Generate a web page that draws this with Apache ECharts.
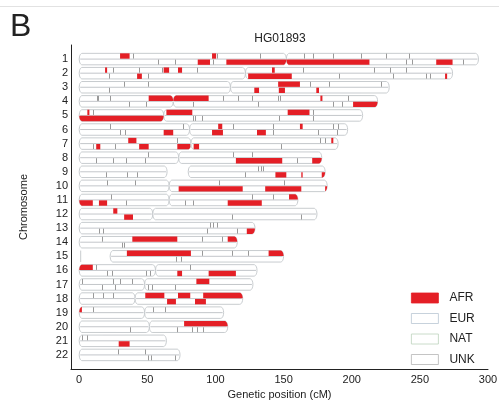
<!DOCTYPE html>
<html>
<head>
<meta charset="utf-8">
<script src="https://cdn.jsdelivr.net/npm/echarts@6/dist/echarts.min.js"></script>
<style>
  html, body { margin: 0; padding: 0; background: #fff; }
  #main { width: 499px; height: 401px; }
</style>
</head>
<body>
<div id="main"></div>
<script>
var chromosomes = ['1','2','3','4','5','6','7','8','9','10','11','12','13','14','15','16','17','18','19','20','21','22'];
var chromStart = [0,0,0,0,0,0,0,0,0,0,0,0,0,0,22.7,0,0,0,0,0,0,0];
var chromLength = [293,274,227.5,219,208,197,190,178,180.5,182,160.5,174.5,129,116,150,130.5,127.5,120,106,109,64,74];
// [end of p arm, start of q arm], null = no visible centromere
var centromere = [[152,152],[122,122],[111,111],[69,69],[62,62],[81,81],[82,82],[73,73],[64.5,80],[66,66],[66,66],[54,54],
                  null,null,null,[56,56],[48,48],[41,41],[48,48],[51.5,51.5],null,null];

// AFR tracts (cM), haplotype A = upper row, B = lower row
var afrHapA = [
  [[30,37],[97.5,100.5]],
  [[19,20.5],[62,66],[72.5,75.5],[141.5,143.5]],
  [[146,162]],
  [[51,95],[177,178.5]],
  [[6,7.5],[64,83],[153,169]],
  [[102,105],[162,164]],
  [[36,42],[185,186.5]],
  [],
  [],
  [],
  [[154,160.5]],
  [[25,28]],
  [],
  [[39,72],[109,116]],
  [[35,82],[139,150]],
  [[0,10]],
  [[86,95.5]],
  [[48.5,62.5],[72.5,81.5],[91,120]],
  [[0,2]],
  [[77,109]],
  [],
  []
];
var afrHapB = [
  [[87,96],[108,213],[262,274]],
  [[42.5,46],[124,156],[268.5,270]],
  [[128.5,132],[146.5,151],[174,176]],
  [[201,219]],
  [[0,62]],
  [[62,69],[97.5,105.5],[130.5,137]],
  [[12.5,15.5],[44,51],[72,81.5],[84,88]],
  [[115,149],[171,178]],
  [[144,152],[163,164],[178,180.5]],
  [[73,120],[136.5,163],[180.5,182]],
  [[0,10],[14.5,20.5],[109,134]],
  [[33,39.5]],
  [[123,129]],
  [],
  [],
  [[72,75.5],[95,115]],
  [],
  [[64.5,71],[85,93]],
  [],
  [],
  [[29,37]],
  []
];

// other tract boundaries (cM)
var breaksHapA = [
  [39.6,101,133,165,171.5,186,207,225,242],
  [25,44,61,86.5,164,216,228,240],
  [33,50.6,169.5,183.4,221.6],
  [13.2,14,22.7,105.6,116.7,127,146,147.5,197.4],
  [10.3,171.7],
  [22.7,76.3,113,142.3,186.4,190],
  [72,176.8,180.5],
  [50.6,113,127],
  [131.3,133.5,135],
  [20.5,41,102.7,150.4],
  [23.5,127,142.3],
  [],
  [96,98.3,101.2],
  [16.9,90.2,105],
  [90.2,112.3,124],
  [12.5,81.4],
  [2.2,25,30,38.9],
  [10.3,17.6,25],
  [10.3,54.3,63],
  [],
  [2.2,5.9],
  [28.6,48.4]
];
var breaksHapB = [
  [58,70.5,98,240,244,282],
  [22,50.6,191,230,254.6,257.5],
  [22],
  [36.7,49,83.6,131,186.4,193],
  [83.6,85,90,146.7,171.7],
  [30,33.7,142.3,175.4,189.3],
  [10.3,26.4,148],
  [12.5,25,34.5,48.4,160],
  [19.8,35.2,42.6,121.8],
  [],
  [34.5,77.8,83.6],
  [112.3,163],
  [14.7,17.6,94,116],
  [31.5,33],
  [71.2,74.8],
  [20.5,24.2,49,52],
  [16.9,26.4,50.6,53.6,70.4],
  [],
  [],
  [37.4,72,83,86.6,91],
  [],
  [50.6,52.8,70.4]
];

var ancestries = ['AFR','EUR','NAT','UNK'];
var ancestryFill = ['#e41f26','#ffffff','#ffffff','#ffffff'];
var ancestryBorder = ['#e41f26','#b9c6d3','#bcd3bc','#b5b5b5'];
var xTicks = [0,50,100,150,200,250,300];

var font = 'Liberation Sans, Arial, Helvetica, sans-serif';
var myChart = echarts.init(document.getElementById('main'));

function renderChrom(params, api) {
  var i = params.dataIndex;
  var yc = api.coord([0, i + 1])[1];
  var h = 5.75, rx = 3;
  function px(v) { return api.coord([v, i + 1])[0]; }
  var arms = [];
  var c = centromere[i];
  if (c) {
    arms.push([px(chromStart[i]), px(c[0])]);
    arms.push([px(c[1]), px(chromLength[i])]);
  } else {
    arms.push([px(chromStart[i]), px(chromLength[i])]);
  }
  function edge(x, a) {
    var t = 0;
    if (x < a[0] + rx) t = (a[0] + rx - x) / rx;
    else if (x > a[1] - rx) t = (x - a[1] + rx) / rx;
    return h * Math.sqrt(Math.max(0, 1 - t * t));
  }
  function samples(a, x0, x1) {
    var pts = [x0, x1], x;
    for (x = a[0]; x < a[0] + rx; x += 0.4) if (x > x0 && x < x1) pts.push(x);
    for (x = a[1] - rx; x <= a[1]; x += 0.4) if (x > x0 && x < x1) pts.push(x);
    pts.sort(function (p, q) { return p - q; });
    return pts;
  }
  var children = [];
  // chr15 has an empty stretch before its first tract: small cap at 0
  if (chromStart[i] > 0) {
    var x0 = px(0);
    children.push({ type: 'line', shape: { x1: x0 + 1.5, y1: yc - h, x2: x0 + 1.5, y2: yc + h },
      style: { stroke: '#c2c6ca', lineWidth: 0.9 } });
  }
  // arm outlines
  arms.forEach(function (a) {
    var pts = samples(a, a[0], a[1]), poly = [];
    pts.forEach(function (x) { poly.push([x, yc - edge(x, a)]); });
    pts.slice().reverse().forEach(function (x) { poly.push([x, yc + edge(x, a)]); });
    children.push({ type: 'polygon', shape: { points: poly },
      style: { fill: '#fff', stroke: '#c2c6ca', lineWidth: 0.9 } });
    children.push({ type: 'line', shape: { x1: a[0] + 1, y1: yc, x2: a[1] - 1, y2: yc },
      style: { stroke: '#b4b8bc', lineWidth: 0.8 } });
  });
  // AFR tracts
  [[afrHapA[i], -1], [afrHapB[i], 1]].forEach(function (hp) {
    var sign = hp[1];
    hp[0].forEach(function (seg) {
      arms.forEach(function (a) {
        var x0 = Math.max(px(seg[0]), a[0]), x1 = Math.min(px(seg[1]), a[1]);
        if (x1 - x0 < 0.3) return;
        var pts = samples(a, x0, x1), poly = [];
        pts.forEach(function (x) { poly.push([x, yc + sign * edge(x, a)]); });
        poly.push([x1, yc + sign * 0.4]);
        poly.push([x0, yc + sign * 0.4]);
        children.push({ type: 'polygon', shape: { points: poly },
          style: { fill: ancestryFill[0], stroke: null } });
      });
    });
  });
  // tract boundaries
  [[breaksHapA[i], -1], [breaksHapB[i], 1]].forEach(function (hp) {
    var sign = hp[1];
    hp[0].forEach(function (b) {
      var x = Math.round(px(b)) + 0.5;
      arms.forEach(function (a) {
        if (x <= a[0] || x >= a[1]) return;
        children.push({ type: 'line',
          shape: { x1: x, y1: yc + sign * 0.5, x2: x, y2: yc + sign * edge(x, a) * 0.95 },
          style: { stroke: '#999999', lineWidth: 1 } });
      });
    });
  });
  return { type: 'group', children: children };
}

var chromData = chromosomes.map(function (name, i) { return [chromLength[i], i + 1]; });

var series = [{
  name: 'chromosomes',
  type: 'custom',
  renderItem: renderChrom,
  data: chromData,
  encode: { x: 0, y: 1 },
  silent: true
}];
ancestries.forEach(function (a, k) {
  series.push({
    name: a,
    type: 'bar',
    data: [],
    itemStyle: { color: ancestryFill[k], borderColor: ancestryBorder[k], borderWidth: 1 }
  });
});

var option = {
  animation: false,
  backgroundColor: '#fff',
  textStyle: { fontFamily: font },
  grid: { left: 71, right: 11, top: 45, bottom: 32, containLabel: false, outerBoundsMode: 'none' },
  xAxis: {
    type: 'value',
    min: -6,
    max: 300,
    name: 'Genetic position (cM)',
    nameLocation: 'middle',
    nameGap: 17,
    nameTextStyle: { fontSize: 11, color: '#222', fontFamily: font },
    axisLine: { show: true, onZero: false, lineStyle: { color: '#222', width: 1 } },
    axisTick: { show: false },
    splitLine: { show: false },
    axisLabel: { customValues: xTicks, fontSize: 11, color: '#222', margin: 5, fontFamily: font }
  },
  yAxis: {
    type: 'value',
    inverse: true,
    min: 0,
    max: 23,
    interval: 1,
    name: 'Chromosome',
    nameLocation: 'middle',
    nameGap: 42,
    nameTextStyle: { fontSize: 11, color: '#222', fontFamily: font },
    axisLine: { show: true, onZero: false, lineStyle: { color: '#222', width: 1 } },
    axisTick: { show: false },
    splitLine: { show: false },
    axisLabel: {
      fontSize: 11, color: '#222', margin: 3, fontFamily: font,
      formatter: function (v) { return (v >= 1 && v <= 22) ? chromosomes[v - 1] : ''; }
    }
  },
  legend: {
    data: ancestries,
    orient: 'vertical',
    left: 406,
    top: 287,
    itemWidth: 27,
    itemHeight: 10,
    itemGap: 8.5,
    icon: 'rect',
    itemStyle: { borderWidth: 0.8 },
    textStyle: { fontSize: 12, color: '#222', fontFamily: font, padding: [0, 0, 0, 6] }
  },
  graphic: [
    { type: 'line', shape: { x1: 0, y1: 6.5, x2: 499, y2: 6.5 }, style: { stroke: '#e2e2e2', lineWidth: 1 } },
    { type: 'text', left: 10, top: 11, style: { text: 'B', fontSize: 32, fill: '#222', fontFamily: font } },
    { type: 'text', x: 280, y: 39, style: { text: 'HG01893', fontSize: 12, fill: '#222', fontFamily: font, align: 'center', verticalAlign: 'middle' } }
  ],
  series: series
};

myChart.setOption(option);
</script>
</body>
</html>
